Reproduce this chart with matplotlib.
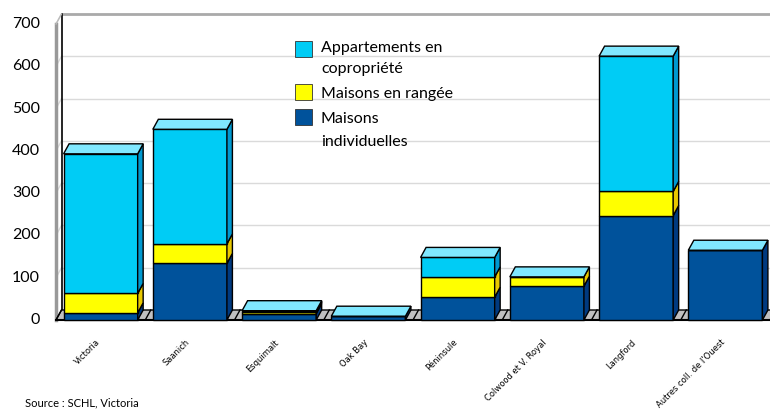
import matplotlib
matplotlib.use("Agg")
import matplotlib.pyplot as plt
from matplotlib.patches import Polygon, Rectangle
import numpy as np

# ---- data ----
categories = ["Victoria", "Saanich", "Esquimalt", "Oak Bay", "Péninsule",
              "Colwood et V. Royal", "Langford", "Autres coll. de l'Ouest"]
individuelles = [17, 134, 15, 9, 54, 80, 247, 165]
rangee = [46, 46, 4, 0, 48, 22, 57, 0]
copropriete = [330, 271, 3, 0, 46, 0, 320, 0]
series_names = ["Appartements en\ncopropriété", "Maisons en rangée", "Maisons\nindividuelles"]
yticks = [0, 100, 200, 300, 400, 500, 600, 700]

# ---- style ----
W, H = 770, 409
front_cols = ["#00529B", "#FFFF00", "#00CCF5"]
side_cols = ["#003A80", "#E8C800", "#0099D0"]
top_col = "#80E8FF"
DX_PX, DY_PX = 5.5, 10.0
BAR_W = 0.83

fig = plt.figure(figsize=(W / 100, H / 100), dpi=100)
ax_left, ax_right, ax_bot_px, ax_top_px = 56, 770, 320, 24
ax = fig.add_axes([ax_left / W, (H - ax_bot_px) / H, (ax_right - ax_left) / W,
                   (ax_bot_px - ax_top_px) / H])
n = len(categories)
ax.set_xlim(-0.5, n - 0.5)
ax.set_ylim(0, 700)
ax.axis("off")

xr = n
yr = 700
dx = DX_PX * xr / (ax_right - ax_left)
dy = DY_PX * yr / (ax_bot_px - ax_top_px)
x0, x1 = -0.5, n - 0.5

# back wall gridlines
for v in yticks[1:]:
    ax.plot([x0 + dx, x1 + dx + 1], [v + dy, v + dy], color="#DADADA", lw=1,
            clip_on=False, zorder=1)
    ax.plot([x0, x0 + dx], [v, v + dy], color="#DADADA", lw=1, clip_on=False, zorder=1)
# top border of back wall
ax.plot([x0 + dx, x1 + dx + 1], [700 + dy, 700 + dy], color="#AAAAAA", lw=2,
        clip_on=False, zorder=1)
# back wall left edge
ax.plot([x0 + dx, x0 + dx], [dy - 5, 700 + dy], color="black", lw=1.2,
        clip_on=False, zorder=1.5)
# left wall front edge
ax.plot([x0, x0], [0, 700], color="#999999", lw=2.5, clip_on=False, zorder=1.5)
ax.plot([x0, x0 + dx], [700, 700 + dy], color="#BBBBBB", lw=1, clip_on=False, zorder=1.5)

# floor
floor = Polygon([[x0, 0], [x1 + 1, 0], [x1 + 1 + dx, dy], [x0 + dx, dy]],
                closed=True, facecolor="#C0C0C0", edgecolor="black", lw=1,
                clip_on=False, zorder=2)
ax.add_patch(floor)
for b in np.arange(-0.5, n + 0.5, 1.0):
    ax.plot([b, b + dx], [0, dy], color="black", lw=1, clip_on=False, zorder=2.1)
ax.plot([x0, x1 + 1], [0, 0], color="black", lw=1.5, clip_on=False, zorder=2.2)

# bars
x = np.arange(n)
stack = [individuelles, rangee, copropriete]
bottoms = np.zeros(n)
for s, vals in enumerate(stack):
    vals = np.array(vals, dtype=float)
    ax.bar(x, vals, BAR_W, bottom=bottoms, color=front_cols[s], edgecolor="black",
           linewidth=1, zorder=3, clip_on=False)
    for i in range(n):
        if vals[i] <= 0:
            continue
        xrgt = x[i] + BAR_W / 2
        yb, yt = bottoms[i], bottoms[i] + vals[i]
        side = Polygon([[xrgt, yb], [xrgt, yt], [xrgt + dx, yt + dy], [xrgt + dx, yb + dy]],
                       closed=True, facecolor=side_cols[s], edgecolor="black", lw=1,
                       clip_on=False, zorder=3)
        ax.add_patch(side)
    bottoms = bottoms + vals

for i in range(n):
    xl, xrgt = x[i] - BAR_W / 2, x[i] + BAR_W / 2
    t = bottoms[i]
    top = Polygon([[xl, t], [xrgt, t], [xrgt + dx, t + dy], [xl + dx, t + dy]],
                  closed=True, facecolor=top_col, edgecolor="black", lw=1,
                  clip_on=False, zorder=3.5)
    ax.add_patch(top)

# y tick labels
for v in yticks:
    ax.text(-0.5 - 16 * xr / (ax_right - ax_left), v, str(v), ha="right", va="center",
            fontsize=11.5, family="Lato", color="black", clip_on=False)

# x tick labels
lab_y = -(341 - ax_bot_px) * yr / (ax_bot_px - ax_top_px)
for i, c in enumerate(categories):
    ax.text(x[i] - 0.02, lab_y, c, rotation=45, ha="right", va="center",
            rotation_mode="anchor", fontsize=6,
            family=["Liberation Sans Narrow", "DejaVu Sans"], clip_on=False)

# legend
leg_items = [(series_names[0], front_cols[2], 41, [48, 69]),
             (series_names[1], front_cols[1], 84, [94]),
             (series_names[2], front_cols[0], 109, [119, 142])]
for name, col, sq_top, line_ys in leg_items:
    fig.patches.append(Rectangle((295 / W, 1 - (sq_top + 16) / H), 17 / W, 16 / H,
                                 transform=fig.transFigure, facecolor=col,
                                 edgecolor="#333333", lw=0.6))
    for line, ly in zip(name.split("\n"), line_ys):
        fig.text(321 / W, 1 - ly / H, line, ha="left", va="center", fontsize=11.5,
                 family="Lato", color="black")

fig.text(25 / W, 1 / H, "Source : SCHL, Victoria", ha="left", va="bottom",
         fontsize=8, family="Lato")

fig.savefig("out.png", dpi=100)
